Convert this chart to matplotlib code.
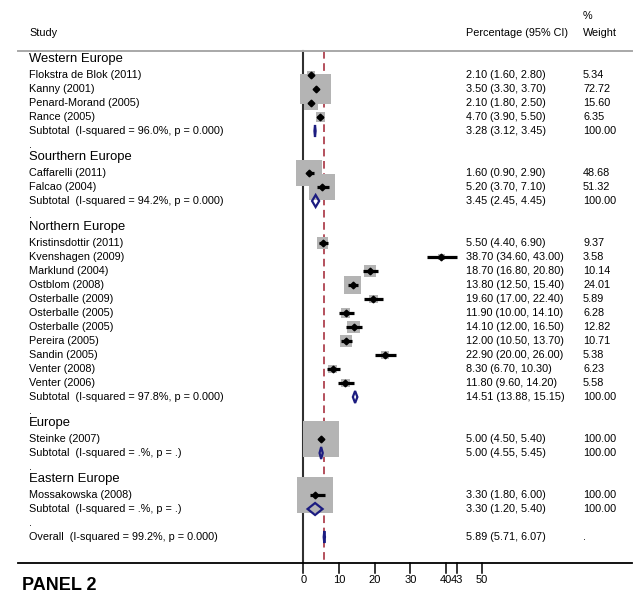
import matplotlib
matplotlib.use("Agg")
import matplotlib.pyplot as plt
from matplotlib.patches import Rectangle, Polygon

plt.rcParams['font.family'] = ['Liberation Sans', 'DejaVu Sans']

# regions and their studies
regions = ["Western Europe", "Sourthern Europe", "Northern Europe", "Europe", "Eastern Europe"]
studies = [
    ["Flokstra de Blok (2011)", "Kanny (2001)", "Penard-Morand (2005)", "Rance (2005)"],
    ["Caffarelli (2011)", "Falcao (2004)"],
    ["Kristinsdottir (2011)", "Kvenshagen (2009)", "Marklund (2004)", "Ostblom (2008)",
     "Osterballe (2009)", "Osterballe (2005)", "Osterballe (2005)", "Pereira (2005)",
     "Sandin (2005)", "Venter (2008)", "Venter (2006)"],
    ["Steinke (2007)"],
    ["Mossakowska (2008)"],
]
est = [[2.1, 3.5, 2.1, 4.7], [1.6, 5.2],
       [5.5, 38.7, 18.7, 13.8, 19.6, 11.9, 14.1, 12.0, 22.9, 8.3, 11.8], [5.0], [3.3]]
lo = [[1.6, 3.3, 1.8, 3.9], [0.9, 3.7],
      [4.4, 34.6, 16.8, 12.5, 17.0, 10.0, 12.0, 10.5, 20.0, 6.7, 9.6], [4.5], [1.8]]
hi = [[2.8, 3.7, 2.5, 5.5], [2.9, 7.1],
      [6.9, 43.0, 20.8, 15.4, 22.4, 14.1, 16.5, 13.7, 26.0, 10.3, 14.2], [5.4], [6.0]]
wt = [[5.34, 72.72, 15.60, 6.35], [48.68, 51.32],
      [9.37, 3.58, 10.14, 24.01, 5.89, 6.28, 12.82, 10.71, 5.38, 6.23, 5.58], [100.0], [100.0]]

sub_label = ["Subtotal  (I-squared = 96.0%, p = 0.000)", "Subtotal  (I-squared = 94.2%, p = 0.000)",
             "Subtotal  (I-squared = 97.8%, p = 0.000)", "Subtotal  (I-squared = .%, p = .)",
             "Subtotal  (I-squared = .%, p = .)"]
sub_est = [3.28, 3.45, 14.51, 5.00, 3.30]
sub_lo = [3.12, 2.45, 13.88, 4.55, 1.20]
sub_hi = [3.45, 4.45, 15.15, 5.45, 5.40]

overall_label = "Overall  (I-squared = 99.2%, p = 0.000)"
overall = (5.89, 5.71, 6.07)

ticks = [0, 10, 20, 30, 40, 43, 50]

# pixel geometry
PX_X = 3.57      # px per percentage unit
X0 = 303.3       # px of x=0
ROW = 14.0       # px per row
Y0 = 61.0        # px of row 0
W, H = 643, 597

fig = plt.figure(figsize=(W / 100, H / 100), dpi=100)
ax = fig.add_axes([0, 0, 1, 1])
ax.set_xlim(-X0 / PX_X, (W - X0) / PX_X)
ax.set_ylim((H - Y0) / ROW, -Y0 / ROW)
ax.axis("off")

def px2x(p):
    return (p - X0) / PX_X

def py2r(p):
    return (p - Y0) / ROW

x_lab = px2x(29)
x_ci = px2x(466)
x_wt = px2x(583)
fs = 7.8
navy = "#1c1c80"

def diamond(e, l, h, r):
    hh = 6 / ROW
    ax.add_patch(Polygon([(l, r), (e, r - hh), (h, r), (e, r + hh)], closed=True,
                         fill=False, edgecolor=navy, lw=1.6, zorder=5))

# header
ax.text(x_lab, py2r(33), "Study", fontsize=fs, va="center")
ax.text(x_ci, py2r(33), "Percentage (95% CI)", fontsize=fs, va="center")
ax.text(x_wt, py2r(33), "Weight", fontsize=fs, va="center")
ax.text(x_wt, py2r(16), "%", fontsize=fs, va="center")
ax.plot([px2x(18), px2x(632)], [py2r(50.5), py2r(50.5)], color="#a8a8a8", lw=1.4)

r = 0
for g in range(len(regions)):
    if g > 0:
        ax.text(x_lab, r, ".", fontsize=fs, va="center")
        r += 1
    ax.text(x_lab, r - 0.12, regions[g], fontsize=9.4, va="center")
    r += 1
    for i in range(len(studies[g])):
        ax.text(x_lab, r, studies[g][i], fontsize=fs, va="center")
        side = 3.6 * wt[g][i] ** 0.5
        ax.add_patch(Rectangle((est[g][i] - side / 2 / PX_X, r - side / 2 / ROW),
                               side / PX_X, side / ROW, facecolor="#b4b4b4",
                               edgecolor="none", zorder=3))
        ax.plot([lo[g][i], hi[g][i]], [r, r], color="black", lw=2.3, zorder=4,
                solid_capstyle="butt")
        ax.plot(est[g][i], r, marker="D", color="black", ms=3.4, zorder=4.5)
        ax.text(x_ci, r, f"{est[g][i]:.2f} ({lo[g][i]:.2f}, {hi[g][i]:.2f})",
                fontsize=fs, va="center")
        ax.text(x_wt, r, f"{wt[g][i]:.2f}", fontsize=fs, va="center")
        r += 1
    ax.text(x_lab, r, sub_label[g], fontsize=fs, va="center")
    diamond(sub_est[g], sub_lo[g], sub_hi[g], r)
    ax.text(x_ci, r, f"{sub_est[g]:.2f} ({sub_lo[g]:.2f}, {sub_hi[g]:.2f})",
            fontsize=fs, va="center")
    ax.text(x_wt, r, "100.00", fontsize=fs, va="center")
    r += 1

ax.text(x_lab, r, ".", fontsize=fs, va="center")
r += 1
ax.text(x_lab, r, overall_label, fontsize=fs, va="center")
diamond(overall[0], overall[1], overall[2], r)
ax.text(x_ci, r, f"{overall[0]:.2f} ({overall[1]:.2f}, {overall[2]:.2f})", fontsize=fs, va="center")
ax.text(x_wt, r, ".", fontsize=fs, va="center")

# reference lines
r_top, r_axis = py2r(50.5), py2r(563)
ax.plot([0, 0], [r_top, r_axis], color="#303030", lw=1.5, zorder=1)
ax.plot([overall[0], overall[0]], [r_top, r_axis], color="#a02030", lw=1.1,
        dashes=(5, 3), zorder=1)

# x axis
ax.plot([px2x(18), px2x(632)], [r_axis, r_axis], color="black", lw=1.3)
for t in ticks:
    ax.plot([t, t], [r_axis, r_axis + 10 / ROW], color="black", lw=1.1)
    ax.text(t, py2r(580), str(t), fontsize=8, ha="center", va="center",
            family=["Liberation Sans Narrow", "Liberation Sans"])

ax.text(px2x(22), py2r(585), "PANEL 2", fontsize=13, fontweight="bold", va="center")

fig.savefig("out.png", dpi=100)
